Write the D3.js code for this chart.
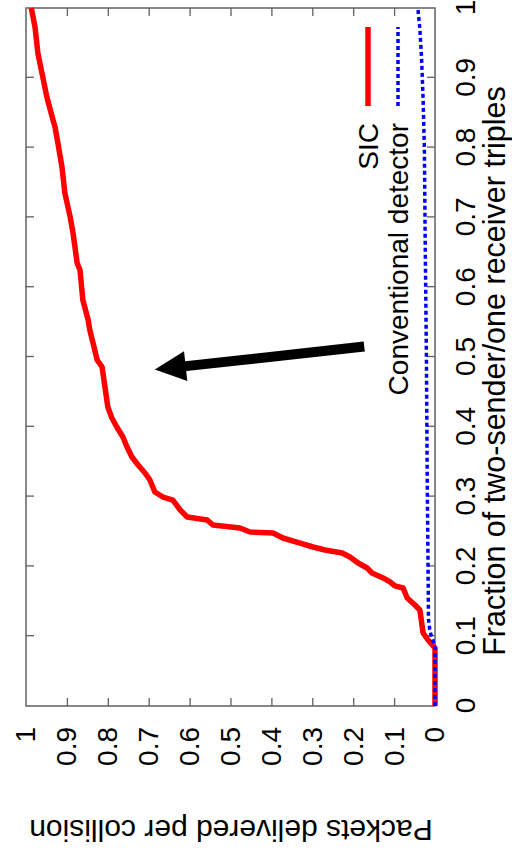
<!DOCTYPE html>
<html>
<head>
<meta charset="utf-8">
<script src="https://cdn.jsdelivr.net/npm/d3@7"></script>
<style>
  html, body { margin: 0; padding: 0; background: #fff; }
  svg { display: block; }
  text { font-family: "Liberation Sans", Arial, Helvetica, sans-serif; fill: #000; }
</style>
</head>
<body>
<script>
// Fraction of two-sender/one-receiver triples (x) vs packets delivered per collision (y)
const sicX = [0, 0.083, 0.0946, 0.1046, 0.1375, 0.1447, 0.1547, 0.169, 0.172, 0.1777, 0.1834, 0.1905,
  0.1977, 0.2049, 0.2135, 0.2192, 0.2235, 0.2278, 0.2335, 0.2407, 0.2479, 0.2493, 0.255, 0.2593,
  0.2665, 0.2708, 0.2808, 0.2951, 0.2994, 0.3066, 0.3238, 0.3338, 0.3453, 0.3567, 0.371, 0.3854,
  0.3997, 0.4126, 0.4284, 0.457, 0.4857, 0.4957, 0.52, 0.5387, 0.553, 0.5817, 0.6246, 0.6347,
  0.6777, 0.7006, 0.735, 0.7722, 0.8066, 0.8295, 0.8438, 0.8725, 0.9069, 0.9355, 0.9728, 1.0];
const sicY = [0, 0, 0.017, 0.029, 0.037, 0.049, 0.068, 0.078, 0.098, 0.110, 0.127, 0.154,
  0.166, 0.188, 0.208, 0.227, 0.269, 0.298, 0.330, 0.372, 0.396, 0.452, 0.477, 0.543,
  0.557, 0.606, 0.623, 0.641, 0.665, 0.685, 0.697, 0.709, 0.726, 0.741, 0.753, 0.763,
  0.778, 0.790, 0.800, 0.807, 0.814, 0.826, 0.836, 0.844, 0.848, 0.861, 0.868, 0.875,
  0.885, 0.892, 0.905, 0.912, 0.922, 0.929, 0.936, 0.949, 0.961, 0.971, 0.978, 0.987];

const convX = [0, 0.083, 0.092, 0.1, 0.11, 0.125, 0.2, 0.324, 0.5, 0.668, 0.8, 0.868, 0.93, 0.97, 1.0];
const convY = [0, 0, 0.004, 0.009, 0.013, 0.016, 0.017, 0.019, 0.021, 0.024, 0.026, 0.029, 0.033, 0.037, 0.042];

const seriesNames = ["SIC", "Conventional detector"];
const seriesColors = ["#ff0000", "#0000ff"];

const tickValues = [0, 0.1, 0.2, 0.3, 0.4, 0.5, 0.6, 0.7, 0.8, 0.9, 1];
const tickLabels = ["0", "0.1", "0.2", "0.3", "0.4", "0.5", "0.6", "0.7", "0.8", "0.9", "1"];

// Annotation arrow, in data coordinates
const arrowFrom = [0.515, 0.173];
const arrowTo = [0.482, 0.685];

const xLabel = "Fraction of two-sender/one receiver triples";
const yLabel = "Packets delivered per collision";

// The plot is laid out landscape (857 x 512) and then turned a quarter turn
const W = 857, H = 512;
const plotL = 151, plotR = 849, plotT = 26, plotB = 435;

const svg = d3.select("body").append("svg")
  .attr("width", H).attr("height", W);

const g = svg.append("g").attr("transform", `translate(0,${W}) rotate(-90)`);

const x = d3.scaleLinear().domain([0, 1]).range([plotL, plotR]);
const y = d3.scaleLinear().domain([0, 1]).range([plotB, plotT]);

const fmt = d => tickLabels[tickValues.indexOf(d)];
const tickFont = 28;

// Axes with inward ticks on all four sides
const axB = g.append("g").attr("transform", `translate(0,${plotB})`)
  .call(d3.axisBottom(x).tickValues(tickValues).tickFormat(fmt).tickSizeInner(-8).tickSizeOuter(0).tickPadding(20));
const axT = g.append("g").attr("transform", `translate(0,${plotT})`)
  .call(d3.axisTop(x).tickValues(tickValues).tickFormat("").tickSizeInner(-8).tickSizeOuter(0));
const axL = g.append("g").attr("transform", `translate(${plotL},0)`)
  .call(d3.axisLeft(y).tickValues(tickValues).tickFormat(fmt).tickSizeInner(-8).tickSizeOuter(0).tickPadding(21));
const axR = g.append("g").attr("transform", `translate(${plotR},0)`)
  .call(d3.axisRight(y).tickValues(tickValues).tickFormat("").tickSizeInner(-8).tickSizeOuter(0));

[axB, axT, axL, axR].forEach(a => {
  a.select(".domain").remove();
  a.selectAll(".tick line").attr("stroke", "#606060").attr("stroke-width", 1.3);
  a.selectAll("text").attr("font-size", tickFont).attr("font-family", "Liberation Sans, Arial, sans-serif").attr("fill", "#000");
  // the end ticks coincide with the frame corners
  a.selectAll(".tick line").filter(d => d === 0 || d === 1).remove();
});

// Frame
g.append("rect")
  .attr("x", plotL).attr("y", plotT)
  .attr("width", plotR - plotL).attr("height", plotB - plotT)
  .attr("fill", "none").attr("stroke", "#606060").attr("stroke-width", 1.5);

// Curves
g.append("clipPath").attr("id", "plotClip").append("rect")
  .attr("x", plotL).attr("y", plotT - 4).attr("width", plotR - plotL + 2).attr("height", plotB - plotT + 8);

const line = d3.line().x(d => x(d[0])).y(d => y(d[1]));
const sicData = sicX.map((v, i) => [v, sicY[i]]);
const convData = convX.map((v, i) => [v, convY[i]]);

const curves = g.append("g").attr("clip-path", "url(#plotClip)");
curves.append("path").datum(sicData)
  .attr("d", line).attr("fill", "none")
  .attr("stroke", seriesColors[0]).attr("stroke-width", 5.5)
  .attr("stroke-linejoin", "round");
curves.append("path").datum(convData)
  .attr("d", line).attr("fill", "none")
  .attr("stroke", seriesColors[1]).attr("stroke-width", 3.5)
  .attr("stroke-dasharray", "4,3");

// Legend (lower right of the plot)
const legRight = 734, sampleX0 = 751, sampleX1 = 830;
const legY = [368, 398];
seriesNames.forEach((name, i) => {
  g.append("text").attr("x", legRight).attr("y", legY[i]).attr("dy", "0.35em")
    .attr("text-anchor", "end").attr("font-size", 28).text(name);
  const s = g.append("line")
    .attr("x1", sampleX0).attr("x2", sampleX1).attr("y1", legY[i]).attr("y2", legY[i])
    .attr("stroke", seriesColors[i]);
  if (i === 0) s.attr("stroke-width", 5.5);
  else s.attr("stroke-width", 3.5).attr("stroke-dasharray", "4,3");
});

// Arrow annotation
{
  const x0 = x(arrowFrom[0]), y0 = y(arrowFrom[1]);
  const x1 = x(arrowTo[0]), y1 = y(arrowTo[1]);
  const dx = x1 - x0, dy = y1 - y0, len = Math.hypot(dx, dy);
  const ux = dx / len, uy = dy / len, px = -uy, py = ux;
  const headLen = 31, headHalf = 15;
  const bx = x1 - ux * headLen, by = y1 - uy * headLen;
  g.append("line").attr("x1", x0).attr("y1", y0).attr("x2", bx + ux * 2).attr("y2", by + uy * 2)
    .attr("stroke", "#000").attr("stroke-width", 10);
  g.append("path")
    .attr("d", `M${x1},${y1}L${bx + px * headHalf},${by + py * headHalf}L${bx - px * headHalf},${by - py * headHalf}Z`)
    .attr("fill", "#000");
}

// Axis titles
g.append("text")
  .attr("x", 486).attr("y", 505)
  .attr("text-anchor", "middle").attr("font-size", 30.5).text(xLabel);
g.append("text")
  .attr("transform", `translate(37,231) rotate(-90)`)
  .attr("text-anchor", "middle").attr("font-size", 30).text(yLabel);
</script>
</body>
</html>
